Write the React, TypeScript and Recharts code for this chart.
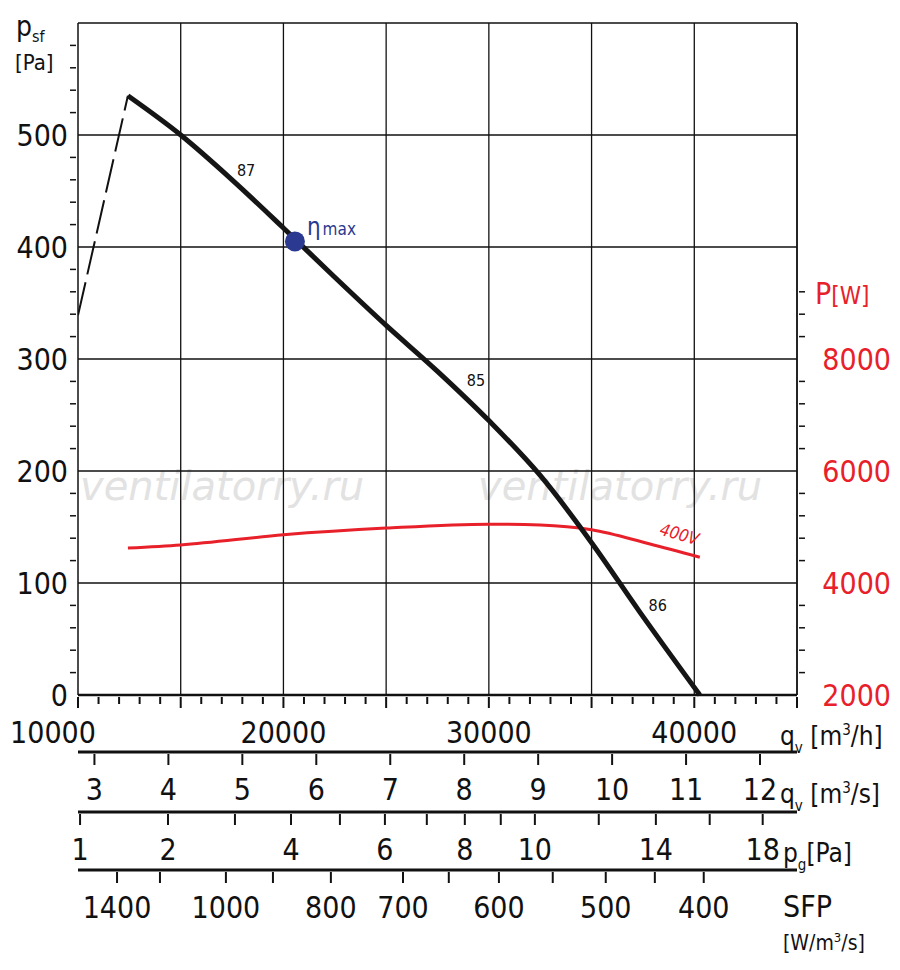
import React from 'react';
import { ComposedChart, Line, XAxis, YAxis, ReferenceLine, ReferenceDot, Scatter } from 'recharts';

const FONT = "'DejaVu Sans Condensed', 'DejaVu Sans', sans-serif";
const RED = '#e8202a';
const BLUE = '#2b3990';

// main fan curve (q m3/h, p Pa)
const curveData = [
  { q: 12430, p: 535 }, { q: 15000, p: 500 }, { q: 17500, p: 460 }, { q: 20000, p: 417 },
  { q: 22500, p: 373 }, { q: 25000, p: 330 }, { q: 27500, p: 289 }, { q: 30000, p: 245 },
  { q: 32500, p: 196 }, { q: 35000, p: 136 }, { q: 37350, p: 74 }, { q: 40270, p: 0 },
];
const dashedData = [{ q: 10000, p: 339 }, { q: 12430, p: 535 }];
// power curve (W)
const powerData = [
  { q: 12430, w: 4625 }, { q: 15000, w: 4680 }, { q: 20000, w: 4860 }, { q: 25000, w: 4980 },
  { q: 30000, w: 5050 }, { q: 32500, w: 5035 }, { q: 35000, w: 4950 }, { q: 37800, w: 4700 },
  { q: 40270, w: 4460 },
];
const etaMax = [{ q: 20560, p: 405 }];
const effLabels = [
  { q: 18180, p: 469, t: '87' }, { q: 29370, p: 281, t: '85' }, { q: 38220, p: 80, t: '86' },
];

const qTicks = Array.from({ length: 36 }, (_, i) => 10000 + i * 1000);
const qLabels = [10000, 20000, 30000, 40000];
const m3sValues = [3, 4, 5, 6, 7, 8, 9, 10, 11, 12];
const m3sTicks = m3sValues.map((v) => v * 3600);
const pgTickQ = [10100, 14380, 17640, 20370, 22750, 24940, 26980, 28830, 30580, 32240, 35350, 38130, 40750, 43330];
const pgTickLabels = ['1', '2', '', '4', '', '6', '', '8', '', '10', '', '14', '', '18'];
const sfpTickQ = [11900, 13990, 17200, 19490, 22310, 25820, 28050, 30490, 33110, 35690, 38080, 40460];
const sfpTickLabels = ['1400', '', '1000', '', '800', '700', '', '600', '', '500', '', '400'];
const leftTicks = Array.from({ length: 31 }, (_, i) => i * 20);
const rightTicks = Array.from({ length: 19 }, (_, i) => 2000 + i * 400);
const hGrid = [100, 200, 300, 400, 500, 600];
const vGrid = [15000, 20000, 25000, 30000, 35000, 40000, 45000];

const TXT = { fontSize: 30, fontFamily: FONT };

const MainTick = (props: any) => {
  const { x, y, payload } = props;
  const v = payload.value;
  const big = v % 5000 === 0;
  const lbl = qLabels.includes(v);
  return (
    <g>
      <line x1={x} x2={x} y1={y} y2={y + (big ? 11 : 7)} stroke="#111" strokeWidth={2} />
      {lbl && (
        <text x={v === 10000 ? x - 25 : x} y={y + 46} textAnchor="middle" {...TXT} fill="#111">
          {v}
        </text>
      )}
    </g>
  );
};
const makeTick = (labels: (v: number) => string) => (props: any) => {
  const { x, y, payload } = props;
  const t = labels(payload.value);
  return (
    <g>
      <line x1={x} x2={x} y1={y} y2={y + 11} stroke="#111" strokeWidth={2} />
      {t && (
        <text x={x} y={y + 46} textAnchor="middle" {...TXT} fill="#111">
          {t}
        </text>
      )}
    </g>
  );
};
const M3sTick = makeTick((v) => String(Math.round(v / 3600)));
const PgTick = makeTick((v) => pgTickLabels[pgTickQ.indexOf(v)] || '');
const SfpTick = makeTick((v) => sfpTickLabels[sfpTickQ.indexOf(v)] || '');

const LeftTick = (props: any) => {
  const { x, y, payload } = props;
  const major = payload.value % 100 === 0;
  return (
    <g>
      {!major && <line x1={x - 6} x2={x} y1={y} y2={y} stroke="#111" strokeWidth={1.5} />}
      {major && payload.value <= 500 && (
        <text x={x - 8} y={y + 11} textAnchor="end" {...TXT} fill="#111">
          {payload.value}
        </text>
      )}
    </g>
  );
};
const RightTick = (props: any) => {
  const { x, y, payload } = props;
  const major = payload.value % 2000 === 0;
  return (
    <g>
      {!major && <line x1={x} x2={x + 6} y1={y} y2={y} stroke="#111" strokeWidth={1.5} />}
      {major && payload.value <= 8000 && (
        <text x={x + 92} y={y + 11} textAnchor="end" {...TXT} fill={RED}>
          {payload.value}
        </text>
      )}
    </g>
  );
};

export default function App() {
  return (
    <div style={{ position: 'absolute', left: 0, top: 0, width: 900, height: 970, background: '#fff' }}>
      <svg width={900} height={970} style={{ position: 'absolute', left: 0, top: 0 }}>
        <g fontFamily="'DejaVu Sans', sans-serif" fontStyle="italic" fontSize={40} fill="#e2e2e2">
          <text x={80} y={500}>ventilatorry.ru</text>
          <text x={478} y={500}>ventilatorry.ru</text>
        </g>
      </svg>
      <div style={{ position: 'absolute', left: 0, top: 0 }}>
        <ComposedChart width={900} height={970} data={curveData} margin={{ top: 23, right: 8, left: 8, bottom: 0 }}>
          <XAxis xAxisId="a_main" type="number" dataKey="q" domain={[10000, 45000]} allowDataOverflow ticks={qTicks}
            interval={0} tick={<MainTick />} tickLine={false} tickSize={0} height={57}
            axisLine={{ stroke: '#111', strokeWidth: 2.5 }} />
          <XAxis xAxisId="b_m3s" type="number" dataKey="q" domain={[10000, 45000]} allowDataOverflow ticks={m3sTicks} interval={0}
            tick={<M3sTick />} tickLine={false} tickSize={0} height={60} axisLine={{ stroke: '#111', strokeWidth: 3 }} />
          <XAxis xAxisId="c_pg" type="number" dataKey="q" domain={[10000, 45000]} allowDataOverflow ticks={pgTickQ} interval={0}
            tick={<PgTick />} tickLine={false} tickSize={0} height={58} axisLine={{ stroke: '#111', strokeWidth: 3 }} />
          <XAxis xAxisId="d_sfp" type="number" dataKey="q" domain={[10000, 45000]} allowDataOverflow ticks={sfpTickQ} interval={0}
            tick={<SfpTick />} tickLine={false} tickSize={0} height={100} axisLine={{ stroke: '#111', strokeWidth: 3 }} />
          <YAxis yAxisId="left" type="number" domain={[0, 600]} ticks={leftTicks} interval={0} width={70}
            tick={<LeftTick />} tickLine={false} tickSize={0} axisLine={{ stroke: '#111', strokeWidth: 1.5 }} />
          <YAxis yAxisId="right" orientation="right" type="number" domain={[2000, 14000]} ticks={rightTicks}
            interval={0} width={95} tick={<RightTick />} tickLine={false} tickSize={0}
            axisLine={{ stroke: '#111', strokeWidth: 1.5 }} />
          {hGrid.map((v) => (
            <ReferenceLine key={'h' + v} xAxisId="a_main" yAxisId="left" y={v} stroke="#111" strokeWidth={1.3} />
          ))}
          {vGrid.map((v) => (
            <ReferenceLine key={'v' + v} xAxisId="a_main" yAxisId="left" x={v} stroke="#111" strokeWidth={1.3} />
          ))}
          <Line xAxisId="a_main" yAxisId="left" data={dashedData} dataKey="p" stroke="#111" strokeWidth={2}
            strokeDasharray="34 8" dot={false} isAnimationActive={false} />
          <Line xAxisId="a_main" yAxisId="right" data={powerData} dataKey="w" type="monotone" stroke={RED}
            strokeWidth={3} dot={false} isAnimationActive={false} />
          <Line xAxisId="a_main" yAxisId="left" data={curveData} dataKey="p" type="monotone" stroke="#151515"
            strokeWidth={5} dot={false} isAnimationActive={false} />
          <Scatter xAxisId="a_main" yAxisId="left" data={etaMax} dataKey="p" fill={BLUE} isAnimationActive={false}
            shape={(p: any) => <circle cx={p.cx} cy={p.cy} r={10} fill={BLUE} />} />
          {effLabels.map((e) => (
            <ReferenceDot key={e.t} xAxisId="a_main" yAxisId="left" x={e.q} y={e.p}
              shape={(p: any) => (
                <text x={p.cx} y={p.cy + 6} textAnchor="middle" fontSize={16} fontFamily={FONT} fill="#111">{e.t}</text>
              )} />
          ))}
          <ReferenceDot xAxisId="a_main" yAxisId="left" x={20560} y={405}
            shape={(p: any) => (
              <text x={p.cx + 12} y={p.cy - 6} fontFamily={FONT} fill={BLUE}>
                <tspan fontSize={24}>η</tspan><tspan fontSize={17} dx={2}>max</tspan>
              </text>
            )} />
          <ReferenceDot xAxisId="a_main" yAxisId="right" x={39200} y={4770}
            shape={(p: any) => (
              <text x={p.cx} y={p.cy} textAnchor="middle" fontSize={17} fontStyle="italic" fontFamily={FONT} fill={RED}
                transform={`rotate(16 ${p.cx} ${p.cy})`}>400V</text>
            )} />
        </ComposedChart>
      </div>
      <svg width={900} height={970} style={{ position: 'absolute', left: 0, top: 0, pointerEvents: 'none' }}>
        <g fontFamily={FONT} fill="#111">
          <text x={16} y={36} fontSize={28}>p<tspan fontSize={16} dy={6}>sf</tspan></text>
          <text x={15} y={70} fontSize={22}>[Pa]</text>
          <text x={815} y={304} fontSize={30} fill={RED}>P<tspan fontSize={24}>[W]</tspan></text>
          <text x={780} y={745} fontSize={26}>q<tspan fontSize={15} dy={8}>v</tspan><tspan dy={-8}> [m</tspan><tspan fontSize={15} dy={-10}>3</tspan><tspan dy={10}>/h]</tspan></text>
          <text x={780} y={803} fontSize={26}>q<tspan fontSize={15} dy={8}>v</tspan><tspan dy={-8}> [m</tspan><tspan fontSize={15} dy={-10}>3</tspan><tspan dy={10}>/s]</tspan></text>
          <text x={783} y={862} fontSize={26}>p<tspan fontSize={15} dy={8}>g</tspan><tspan dy={-8}>[Pa]</tspan></text>
          <text x={783} y={917} fontSize={30}>SFP</text>
          <text x={783} y={950} fontSize={21}>[W/m<tspan fontSize={13} dy={-8}>3</tspan><tspan dy={8}>/s]</tspan></text>
        </g>
      </svg>
    </div>
  );
}
